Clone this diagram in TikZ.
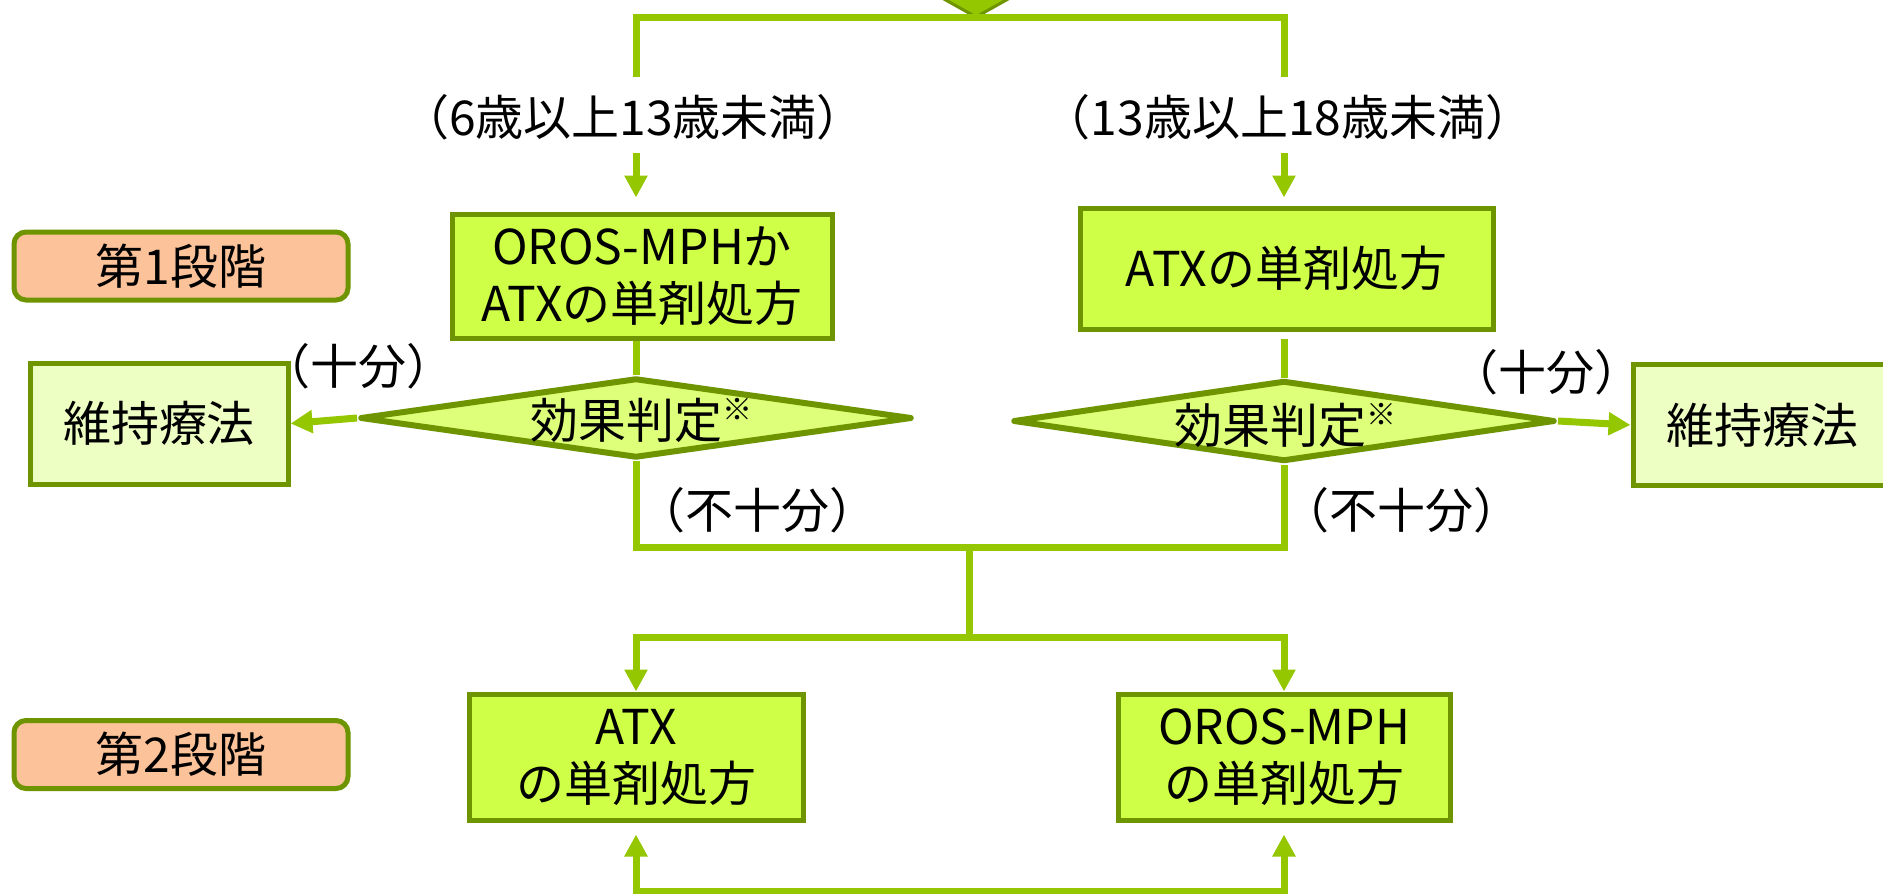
\documentclass[tikz,border=0pt]{standalone}
\usepackage{fontspec}
\setmainfont{Noto Sans CJK JP}
\usetikzlibrary{arrows.meta,shapes.geometric}
\definecolor{conncol}{RGB}{149,199,0}
\definecolor{bordercol}{RGB}{110,148,0}
\definecolor{limefill}{RGB}{207,255,70}
\definecolor{diafill}{RGB}{222,255,122}
\definecolor{maintfill}{RGB}{238,255,196}
\definecolor{stagefill}{RGB}{252,194,154}
\begin{document}
\begin{tikzpicture}[x=1pt,y=-1pt,
  every node/.style={font=\fontsize{48}{57}\selectfont},
  conn/.style={draw=conncol,line width=7pt},
  arr/.style={-{Triangle[length=22pt,width=22pt]}},
  box/.style={draw=bordercol,line width=5pt,fill=limefill,align=center,inner sep=0pt},
  maintbox/.style={box,fill=maintfill,minimum width=258pt,minimum height=121pt},
  stagebox/.style={box,fill=stagefill,rounded corners=12pt,minimum width=334pt,minimum height=68pt},
  diabox/.style={diamond,draw=bordercol,line width=6pt,line join=round,fill=diafill,inner sep=0pt},
  lbl/.style={inner sep=0pt}]
\useasboundingbox (0,0) rectangle (1883,894);
\fill[white] (0,0) rectangle (1883,894);

% nodes
\node[box,minimum width=380pt,minimum height=124pt] (box1) at (642,276) {OROS-MPHか\\ATXの単剤処方};
\node[box,minimum width=413pt,minimum height=121pt] (box2) at (1286.5,268.5) {ATXの単剤処方};
\node[box,minimum width=334pt,minimum height=126pt] (box3) at (636,757) {ATX\\の単剤処方};
\node[box,minimum width=332pt,minimum height=126pt] (box4) at (1284,757) {OROS-MPH\\の単剤処方};
\node[maintbox] (lmaint) at (159,423.5) {維持療法};
\node[maintbox] (rmaint) at (1762,425) {維持療法};
\node[stagebox] (stage1) at (181,266) {第1段階};
\node[stagebox] (stage2) at (181,754.5) {第2段階};
\node[diabox,minimum width=552pt,minimum height=80pt] (ldia) at (636,418) {};
\node[diabox,minimum width=542pt,minimum height=81pt] (rdia) at (1284,421) {};
\node[lbl] (ldiat) at (641,420) {効果判定\raisebox{0.36em}{\fontsize{30}{30}\selectfont ※}};
\node[lbl] (rdiat) at (1285,425) {効果判定\raisebox{0.36em}{\fontsize{30}{30}\selectfont ※}};

\node[lbl] (lblL) at (633,117) {（6歳以上13歳未満）};
\node[lbl] (lblR) at (1288,117) {（13歳以上18歳未満）};
\node[lbl] (suffL) at (358,366) {（十分）};
\node[lbl] (suffR) at (1546,372) {（十分）};
\node[lbl] (insL) at (757,510) {（不十分）};
\node[lbl] (insR) at (1401,510) {（不十分）};

% coordinates
\coordinate (tm) at (976,17);
\coordinate (jL) at (636,77);
\coordinate (jR) at (1284,77);
\coordinate (aL) at (636,153);
\coordinate (aR) at (1284,153);
\coordinate (jB) at (969,547);
\coordinate (jC) at (969,637);
\coordinate (bL) at (636,891);
\coordinate (bR) at (1284,891);

% top incoming arrowhead (cut off)
\filldraw[fill=conncol,draw=bordercol,line width=3pt,line join=miter] (935,-6) -- (1017,-6) -- (tm) -- cycle;

% connectors
\draw[conn] (jL) |- (tm) -| (jR);
\draw[conn,arr,shorten >=14pt] (aL) -- (aL |- box1.north);
\draw[conn,arr,shorten >=8pt] (aR) -- (aR |- box2.north);
\draw[conn] (box1.south -| ldia.north) -- (ldia.north);
\draw[conn] ([yshift=-7pt]box2.south -| rdia.north) -- (rdia.north);
\draw[conn,arr] (ldia.west) -- (lmaint.east);
\draw[conn,arr] (rdia.east) -- (rmaint.west);
\draw[conn] (ldia.south) |- (jB) -| (rdia.south);
\draw[conn] (jB) -- (jC);
\draw[conn,arr] (jC) -| (box3.north);
\draw[conn,arr] (jC) -| (box4.north);
\draw[conn,{Triangle[length=22pt,width=22pt]}-{Triangle[length=22pt,width=22pt]},shorten <=12pt,shorten >=12pt] (box3.south) -- (bL) -- (bR) -- (box4.south);
\end{tikzpicture}
\end{document}
